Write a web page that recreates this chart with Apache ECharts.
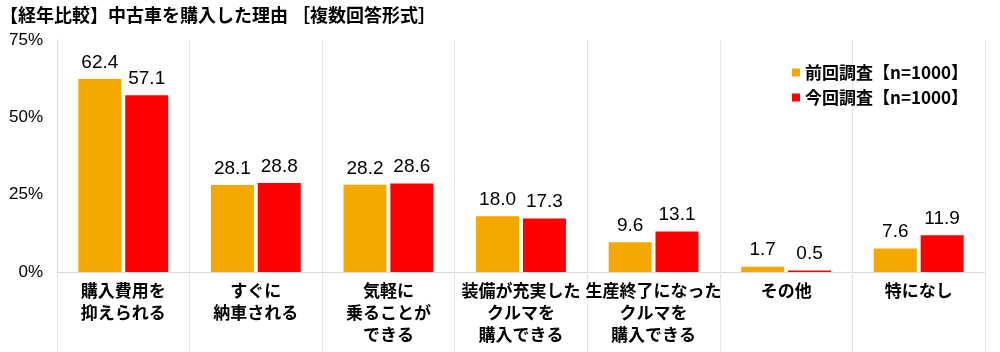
<!DOCTYPE html>
<html>
<head>
<meta charset="utf-8">
<script src="https://cdn.jsdelivr.net/npm/echarts@6/dist/echarts.min.js"></script>
<style>
html, body { margin: 0; padding: 0; background: #fff; }
#main { width: 1000px; height: 352px; }
</style>
</head>
<body>
<div id="main"></div>
<script>
var categories = ['購入費用を\n抑えられる', 'すぐに\n納車される', '気軽に\n乗ることが\nできる', '装備が充実した\nクルマを\n購入できる', '生産終了になった\nクルマを\n購入できる', 'その他', '特になし'];
var prevValues = [62.4, 28.1, 28.2, 18.0, 9.6, 1.7, 7.6];
var currValues = [57.1, 28.8, 28.6, 17.3, 13.1, 0.5, 11.9];
var seriesNames = ['前回調査【n=1000】', '今回調査【n=1000】'];

var font = '"Noto Sans CJK JP", "Noto Sans", sans-serif';
var numFont = '"Liberation Sans", "Noto Sans CJK JP", sans-serif';
var chart = echarts.init(document.getElementById('main'));

function valueLabel() {
	return {
		show: true,
		position: 'top',
		distance: 7,
		formatter: function (p) { return p.value.toFixed(1); },
		fontFamily: numFont,
		fontSize: 19,
		color: '#000'
	};
}

var option = {
	animation: false,
	title: {
		text: '【経年比較】中古車を購入した理由 ［複数回答形式］',
		left: -5,
		top: 1,
		textStyle: { fontFamily: font, fontSize: 18, fontWeight: 'bold', color: '#000' }
	},
	legend: {
		data: seriesNames,
		orient: 'vertical',
		left: 787,
		top: 59,
		itemWidth: 8,
		itemHeight: 8,
		itemGap: 8,
		icon: 'rect',
		textStyle: { fontFamily: font, fontSize: 17, fontWeight: 'bold', color: '#000' }
	},
	grid: { left: 57, right: 15, top: 40, bottom: 80 },
	xAxis: {
		type: 'category',
		data: categories,
		axisLine: { lineStyle: { color: '#d9d9d9' } },
		axisTick: { show: true, length: 80, lineStyle: { color: '#e6e6e6' } },
		splitLine: { show: true, lineStyle: { color: '#e6e6e6' } },
		axisLabel: {
			interval: 0,
			margin: 8,
			fontFamily: font,
			fontSize: 17,
			fontWeight: 'bold',
			color: '#000',
			lineHeight: 22,
			verticalAlign: 'top'
		}
	},
	yAxis: {
		type: 'value',
		min: 0,
		max: 75,
		interval: 25,
		axisLine: { show: true, lineStyle: { color: '#d9d9d9' } },
		axisTick: { show: false },
		splitLine: { show: false },
		axisLabel: {
			formatter: '{value}%',
			fontFamily: numFont,
			fontSize: 17,
			color: '#000',
			margin: 14
		}
	},
	series: [
		{
			name: seriesNames[0],
			type: 'bar',
			data: prevValues,
			barWidth: 43,
			barGap: '9%',
			itemStyle: { color: '#F5A800' },
			label: valueLabel()
		},
		{
			name: seriesNames[1],
			type: 'bar',
			data: currValues,
			barWidth: 43,
			itemStyle: { color: '#FF0000' },
			label: valueLabel()
		}
	]
};

chart.setOption(option);
</script>
</body>
</html>
